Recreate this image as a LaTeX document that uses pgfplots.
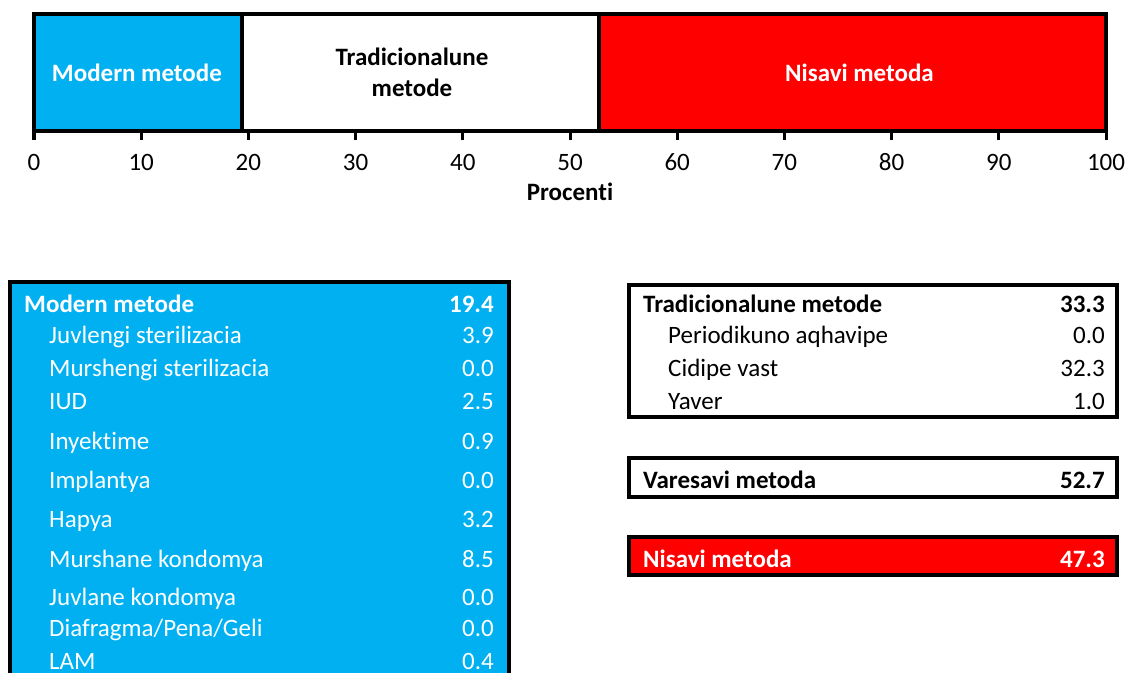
\documentclass[border=0pt]{standalone}
\usepackage{fontspec}
\setmainfont{Carlito}[Ligatures={NoCommon}]
\usepackage{pgfplots}
\pgfplotsset{compat=1.18}
\definecolor{cblue}{RGB}{0,176,240}
\definecolor{cred}{RGB}{255,0,0}
\newcommand{\fs}{\fontsize{25bp}{31bp}\selectfont}
\begin{document}
\begin{tikzpicture}[font=\fs]
\useasboundingbox (0,0) rectangle (1126bp,-673bp);
\begin{axis}[
  at={(34bp,-131bp)}, anchor=south west,
  scale only axis, width=1072bp, height=117bp,
  xmin=0, xmax=100, ymin=0, ymax=1,
  xbar stacked, bar width=1,
  axis y line=none, axis x line*=bottom,
  x axis line style={line width=3.5bp, black, -},
  xtick={0,10,...,100}, ytick=\empty,
  tick align=outside, major tick length=9bp,
  xtick style={line width=3bp, black},
  xticklabel style={font=\fs, yshift=-11bp, text height=16bp, text depth=0pt},
  /pgf/number format/assume math mode=true,
  xlabel={\textbf{Procenti}},
  xlabel style={font=\fs, yshift=-6bp},
  clip=false,
]
\addplot[fill=cblue, draw=black, line width=3.5bp] coordinates {(19.4,0.5)};
\addplot[fill=white, draw=black, line width=3.5bp] coordinates {(33.3,0.5)};
\addplot[fill=cred, draw=black, line width=3.5bp] coordinates {(47.3,0.5)};
\coordinate (lm) at (axis cs:9.6,0.5);
\coordinate (lt) at (axis cs:35.26,0.5);
\coordinate (ln) at (axis cs:77.0,0.5);
\end{axis}
\node[text=white, font=\fs\bfseries, inner sep=0pt] at (lm) {Modern metode};
\node[text=black, font=\fs\bfseries, align=center, inner sep=0pt] at (lt) {Tradicionalune\\metode};
\node[text=white, font=\fs\bfseries, inner sep=0pt] at (ln) {Nisavi metoda};
% Modern methods table
\fill[cblue] (10bp,-282bp) rectangle (509bp,-690bp);
\draw[line width=4bp] (10bp,-690bp) -- (10bp,-282bp) -- (509bp,-282bp) -- (509bp,-690bp);
\begin{scope}[every node/.style={inner sep=0pt}]
\node[anchor=base west, text=white, font=\fs\bfseries] at (24bp,-312bp) {Modern metode};
\node[anchor=base east, text=white, font=\fs\bfseries] at (494bp,-312bp) {19.4};
\foreach \lab/\val/\yy in {{Juvlengi sterilizacia}/3.9/343, {Murshengi sterilizacia}/0.0/376, {IUD}/2.5/409, {Inyektime}/0.9/449, {Implantya}/0.0/488, {Hapya}/3.2/527, {Murshane kondomya}/8.5/567, {Juvlane kondomya}/0.0/605, {Diafragma/Pena/Geli}/0.0/636, {LAM}/0.4/669}{
  \node[anchor=base west, text=white] at (49bp,-\yy bp) {\lab};
  \node[anchor=base east, text=white] at (494bp,-\yy bp) {\val};
}
% Traditional table
\draw[line width=4bp] (629bp,-285bp) rectangle (1117bp,-416.5bp);
\node[anchor=base west, font=\fs\bfseries] at (643bp,-312bp) {Tradicionalune metode};
\node[anchor=base east, font=\fs\bfseries] at (1105bp,-312bp) {33.3};
\foreach \lab/\val/\yy in {{Periodikuno aqhavipe}/0.0/343, {Cidipe vast}/32.3/376, {Yaver}/1.0/409}{
  \node[anchor=base west] at (668bp,-\yy bp) {\lab};
  \node[anchor=base east] at (1105bp,-\yy bp) {\val};
}
% Varesavi
\draw[line width=4bp] (629bp,-458bp) rectangle (1117bp,-496.5bp);
\node[anchor=base west, font=\fs\bfseries] at (643bp,-488bp) {Varesavi metoda};
\node[anchor=base east, font=\fs\bfseries] at (1105bp,-488bp) {52.7};
% Nisavi
\draw[line width=4bp, fill=cred] (629bp,-537bp) rectangle (1117bp,-575bp);
\node[anchor=base west, text=white, font=\fs\bfseries] at (643bp,-567bp) {Nisavi metoda};
\node[anchor=base east, text=white, font=\fs\bfseries] at (1105bp,-567bp) {47.3};
\end{scope}
\end{tikzpicture}
\end{document}
